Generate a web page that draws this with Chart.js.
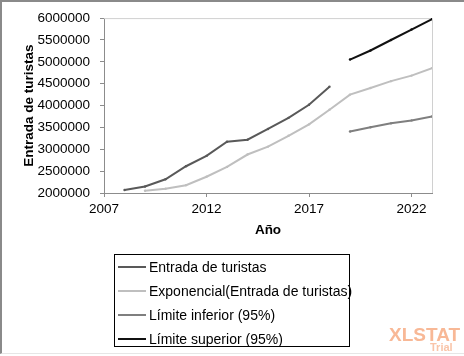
<!DOCTYPE html>
<html>
<head>
<meta charset="utf-8">
<script src="https://cdn.jsdelivr.net/npm/chart.js@4/dist/chart.umd.min.js"></script>
<style>
  html, body { margin: 0; padding: 0; background: #fff; }
  #wrap { position: relative; width: 464px; height: 356px; overflow: hidden; background: #fff; }
  #frame { position: absolute; left: 0; top: 0; width: 462px; height: 351px;
           border-top: 2px solid #8a8a8a; border-left: 2px solid #8a8a8a; border-right: 1px solid #8a8a8a;
           border-bottom: 1px solid #e6e6e6; box-sizing: content-box; pointer-events: none; }
  canvas { position: absolute; left: 0; top: 0; }
  #legend { position: absolute; left: 114px; top: 254px; width: 236px; height: 93px;
            border: 1px solid #000; box-sizing: border-box; font-family: "Liberation Sans", Arial, sans-serif;
            font-size: 14px; color: #000; }
  .item { position: absolute; left: 0; height: 16px; white-space: nowrap; }
  .item .sw { position: absolute; left: 3px; top: 7px; width: 28px; height: 2px; }
  .item .tx { position: absolute; left: 34px; top: 0; line-height: 16px; }
  #wm1 { position: absolute; left: 389px; top: 324px; font-family: "Liberation Sans", Arial, sans-serif;
         font-weight: bold; font-size: 19px; color: #f8b896; letter-spacing: 0px; }
  #wm2 { position: absolute; left: 430px; top: 341px; font-family: "Liberation Sans", Arial, sans-serif;
         font-weight: bold; font-size: 11px; color: #f9c4a8; }
</style>
</head>
<body>
<div id="wrap">
  <canvas id="c" width="464" height="356"></canvas>
  <div id="legend"></div>
  <div id="wm1">XLSTAT</div>
  <div id="wm2">Trial</div>
  <div id="frame"></div>
</div>
<script>
// ---- Data ----
const entradaYears = [2008, 2009, 2010, 2011, 2012, 2013, 2014, 2015, 2016, 2017, 2018];
const entradaValues = [2067000, 2148000, 2314000, 2612000, 2848000, 3173000, 3218000, 3465000, 3719000, 4019000, 4430000];

const expoYears = [2009, 2010, 2011, 2012, 2013, 2014, 2015, 2016, 2017, 2018, 2019, 2020, 2021, 2022, 2023];
const expoValues = [2052000, 2096000, 2179000, 2372000, 2597000, 2880000, 3061000, 3308000, 3570000, 3905000, 4251000, 4401000, 4558000, 4685000, 4856000];

const limitYears = [2019, 2020, 2021, 2022, 2023];
const lowerValues = [3408000, 3503000, 3593000, 3660000, 3750000];
const upperValues = [5052000, 5259000, 5499000, 5738000, 5977000];

const xTickLabels = [2007, 2012, 2017, 2022];
const seriesNames = ["Entrada de turistas", "Exponencial(Entrada de turistas)", "Límite inferior (95%)", "Límite superior (95%)"];
const xTitle = "Año";
const yTitle = "Entrada de turistas";

// ---- Build ----
const pts = (xs, ys) => xs.map((x, i) => ({ x: x, y: ys[i] }));
const colors = ["#595959", "#bfbfbf", "#7f7f7f", "#111111"];
const FONT = "'Liberation Sans', Arial, sans-serif";

function ds(label, data, color) {
  return { label, data, borderColor: color, backgroundColor: color, borderWidth: 2,
           pointRadius: 1.2, pointHoverRadius: 1.2, pointBorderWidth: 0, tension: 0, fill: false };
}

const frameBox = {
  id: 'frameBox',
  beforeDatasetsDraw(chart) {
    const a = chart.chartArea, ctx = chart.ctx;
    ctx.save();
    ctx.strokeStyle = '#d0d0d0';
    ctx.lineWidth = 1;
    ctx.beginPath();
    ctx.moveTo(a.left, a.top + 0.5); ctx.lineTo(a.right + 0.5, a.top + 0.5); ctx.lineTo(a.right + 0.5, a.bottom);
    ctx.stroke();
    ctx.restore();
  }
};

new Chart(document.getElementById('c'), {
  type: 'line',
  data: {
    datasets: [
      ds(seriesNames[0], pts(entradaYears, entradaValues), colors[0]),
      ds(seriesNames[1], pts(expoYears, expoValues), colors[1]),
      ds(seriesNames[2], pts(limitYears, lowerValues), colors[2]),
      ds(seriesNames[3], pts(limitYears, upperValues), colors[3])
    ]
  },
  options: {
    responsive: false,
    animation: false,
    devicePixelRatio: 1,
    layout: { padding: { left: 4, right: 32, top: 15, bottom: 113 } },
    plugins: { legend: { display: false }, tooltip: { enabled: false } },
    scales: {
      x: {
        type: 'linear', min: 2007, max: 2023,
        afterBuildTicks(scale) { scale.ticks = xTickLabels.map(v => ({ value: v })); },
        afterFit(scale) { scale.height = 50; },
        grid: { drawOnChartArea: false, tickLength: 4, color: '#8c8c8c' },
        border: { color: '#8c8c8c', width: 1 },
        ticks: { padding: 4, color: '#000', font: { family: FONT, size: 13.5 }, callback: v => String(v), maxRotation: 0 },
        title: { display: true, text: xTitle, color: '#000', font: { family: FONT, size: 13.5, weight: 'bold' }, padding: { top: 0, bottom: 5 } }
      },
      y: {
        min: 2000000, max: 6000000,
        afterFit(scale) { scale.width = 100; },
        grid: { drawOnChartArea: false, tickLength: 4, color: '#8c8c8c' },
        border: { color: '#8c8c8c', width: 1 },
        ticks: { stepSize: 500000, padding: 10, color: '#000', font: { family: FONT, size: 13.5 }, callback: v => String(v) },
        title: { display: true, text: yTitle, color: '#000', font: { family: FONT, size: 13.5, weight: 'bold' }, padding: { top: 17, bottom: 0 } }
      }
    }
  },
  plugins: [frameBox]
});

// ---- HTML legend ----
const leg = document.getElementById('legend');
const tops = [4, 28, 52, 76];
seriesNames.forEach((name, i) => {
  const it = document.createElement('div');
  it.className = 'item';
  it.style.top = tops[i] + 'px';
  it.innerHTML = '<div class="sw" style="background:' + colors[i] + '"></div><div class="tx"></div>';
  it.querySelector('.tx').textContent = name;
  leg.appendChild(it);
});
</script>
</body>
</html>
